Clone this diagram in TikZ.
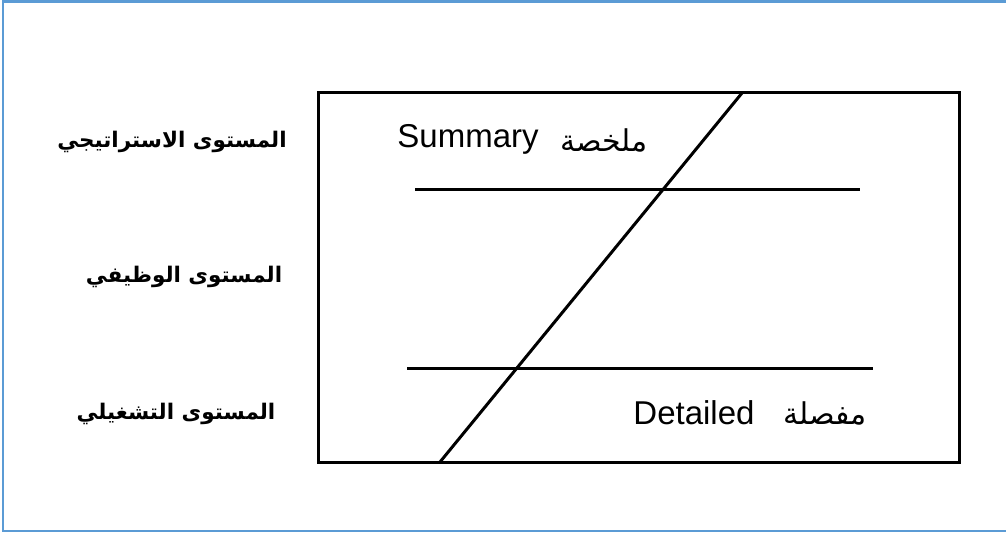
\documentclass[tikz,border=0pt]{standalone}
\usepackage{fontspec}
\setmainfont{Liberation Sans}
\newfontfamily\arabicfont[Script=Arabic]{DejaVu Sans}
\TeXXeTstate=1
\definecolor{frameblue}{RGB}{91,155,213}
\tikzset{
  heavy/.style={line width=3pt, black},
  latinlbl/.style={font=\fontsize{33}{40}\selectfont, inner sep=0pt, anchor=center},
  arlbl/.style={font=\arabicfont\fontsize{30}{36}\selectfont, inner sep=0pt, anchor=center},
  levellbl/.style={font=\arabicfont\bfseries\fontsize{21.5}{28}\selectfont, inner sep=0pt, anchor=center}
}
\begin{document}
\begin{tikzpicture}[x=1pt,y=-1pt]
\clip (0,0) rectangle (1006,534);
% outer frame (its right side lies beyond the page)
\draw[frameblue, line width=2.2pt] (3,1.5) rectangle (1012,531);
% main box
\coordinate (tl) at (318,93);
\coordinate (br) at (959,462);
\draw[heavy] (tl) rectangle (br);
% level separators
\coordinate (s1a) at (415,190);
\coordinate (s1b) at (860,190);
\coordinate (s2a) at (407,368);
\coordinate (s2b) at (873,368);
\draw[heavy] (s1a) -- (s1b);
\draw[heavy] (s2a) -- (s2b);
% diagonal from summary to detail
\coordinate (dtop) at (742,93);
\coordinate (dbot) at (440,462);
\draw[heavy] (dtop) -- (dbot);
% labels inside the box
\node[latinlbl] (summary) at (468,139) {Summary};
\node[arlbl] (mulakhasa) at (604,140) {\beginR ملخصة\endR};
\node[latinlbl] (detailed) at (694,413) {Detailed};
\node[arlbl] (mufassala) at (825,413) {\beginR مفصلة\endR};
% level names on the left
\node[levellbl] (strategic) at (172,142) {\beginR المستوى الاستراتيجي\endR};
\node[levellbl] (functional) at (184,277) {\beginR المستوى الوظيفي\endR};
\node[levellbl] (operational) at (176,414) {\beginR المستوى التشغيلي\endR};
\end{tikzpicture}
\end{document}
